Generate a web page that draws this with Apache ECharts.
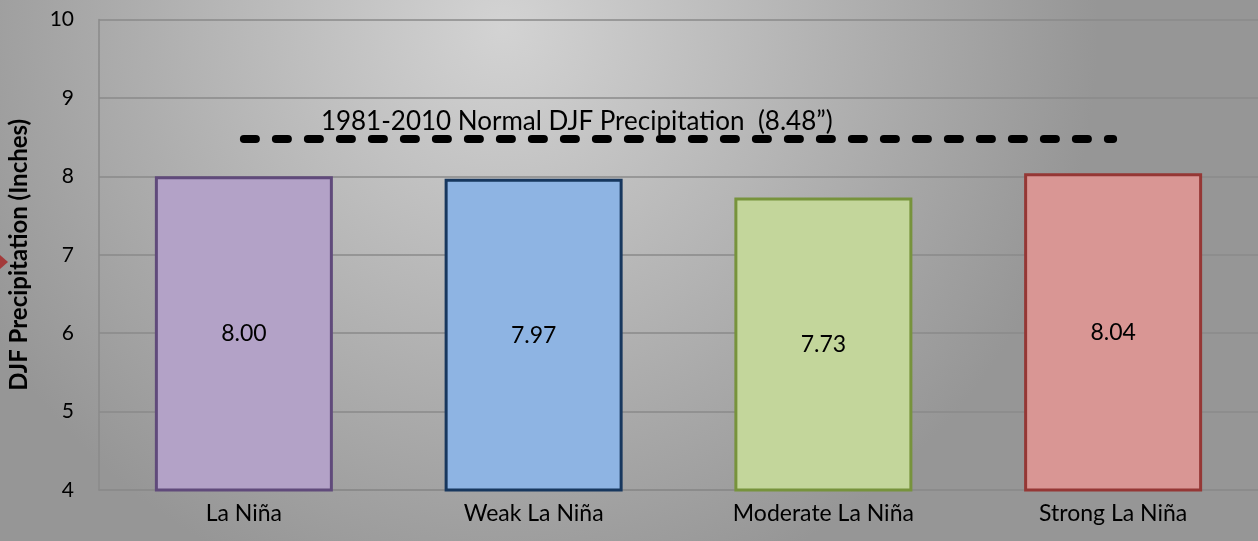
<!DOCTYPE html>
<html>
<head>
<meta charset="utf-8">
<script src="https://cdn.jsdelivr.net/npm/echarts@6/dist/echarts.min.js"></script>
<style>
  html, body { margin: 0; padding: 0; }
  #chart { width: 1258px; height: 541px; }
</style>
</head>
<body>
<div id="chart"></div>
<script>
// 分类与数值
var categories = ['La Niña', 'Weak La Niña', 'Moderate La Niña', 'Strong La Niña']
var precipValues = [8.00, 7.97, 7.73, 8.04]
var normalValue = 8.48
var normalLabel = '1981-2010 Normal DJF Precipitation  (8.48\u201d)'
var yTicks = [4, 5, 6, 7, 8, 9, 10]

var fills = ['#b3a2c7', '#8eb4e3', '#c3d69b', '#d99694']
var borders = ['#604a7b', '#17375e', '#77933c', '#953735']

var font = 'Lato, "Open Sans", sans-serif'

var myChart = echarts.init(document.getElementById('chart'))

var barData = precipValues.map(function (v, i) {
  return {
    value: v,
    itemStyle: {
      color: fills[i],
      borderColor: borders[i],
      borderWidth: 3
    }
  }
})

var arrow = {
  type: 'polygon',
  shape: { points: [[0, 255], [8, 262], [0, 269]] },
  style: { fill: '#a33a3a' }
}

var option = {
  animation: false,
  backgroundColor: {
    type: 'radial',
    x: 0.4, y: 0.05, r: 1.1,
    colorStops: [
      { offset: 0, color: '#d3d3d3' },
      { offset: 1, color: '#969696' }
    ]
  },
  textStyle: { fontFamily: font },
  grid: {
    left: 99, right: 0, top: 19.5, bottom: 51,
    containLabel: false,
    outerBoundsMode: 'none'
  },
  xAxis: {
    type: 'category',
    data: categories,
    axisLine: { show: true, lineStyle: { color: '#8a8a8a', width: 1.5 } },
    axisTick: { show: false },
    axisLabel: { color: '#000', fontSize: 23, margin: 12, fontFamily: font }
  },
  yAxis: {
    type: 'value',
    min: yTicks[0],
    max: yTicks[yTicks.length - 1],
    interval: 1,
    name: 'DJF Precipitation (Inches)',
    nameLocation: 'middle',
    nameRotate: 90,
    nameGap: 68,
    nameTextStyle: { color: '#000', fontSize: 24, fontWeight: 'bold', fontFamily: font },
    axisLine: { show: true, lineStyle: { color: '#8a8a8a', width: 1.5 } },
    axisTick: { show: false },
    splitLine: { lineStyle: { color: '#8a8a8a', width: 1.5 } },
    axisLabel: { color: '#000', fontSize: 21, margin: 25, fontFamily: font }
  },
  graphic: [arrow],
  series: [
    {
      type: 'bar',
      barWidth: 178,
      data: barData,
      label: {
        show: true,
        position: 'inside',
        color: '#000',
        fontSize: 23,
        fontFamily: font,
        formatter: function (p) { return p.value.toFixed(2) }
      },
      markLine: {
        silent: true,
        symbol: 'none',
        lineStyle: { color: '#000', width: 8, type: [12, 20], cap: 'round' },
        label: { show: false },
        data: [
          [
            { coord: [0, normalValue] },
            { coord: [3, normalValue] }
          ]
        ]
      }
    }
  ]
}

myChart.setOption(option)

// 标题文字放在虚线上方
var p = myChart.convertToPixel({ xAxisIndex: 0, yAxisIndex: 0 }, [0, normalValue])
myChart.setOption({
  graphic: [
    arrow,
    {
      type: 'text',
      x: p[0] + 77,
      y: p[1] - 17,
      style: {
        text: normalLabel,
        fill: '#000',
        fontSize: 26,
        fontFamily: font,
        verticalAlign: 'middle'
      }
    }
  ]
})
</script>
</body>
</html>
